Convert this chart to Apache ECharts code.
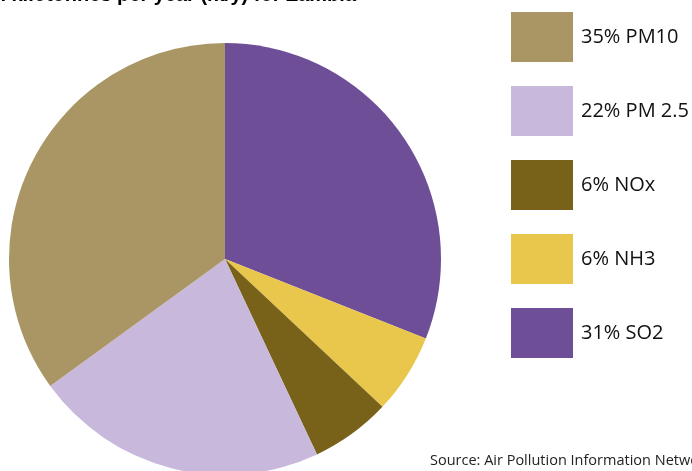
<!DOCTYPE html>
<html>
<head>
<meta charset="utf-8">
<script src="https://cdn.jsdelivr.net/npm/echarts@6/dist/echarts.min.js"></script>
<style>
  html, body { margin: 0; padding: 0; background: #fff; }
  #pie-main { width: 692px; height: 471px; }
</style>
</head>
<body>
<div id="pie-main"></div>
<script>
// slices in drawing order, clockwise from 12 o'clock
const pollutants = ['31% SO2', '6% NH3', '6% NOx', '22% PM 2.5', '35% PM10']
const shares = [31, 6, 6, 22, 35]
const colors = ['#6e4e97', '#e9c74c', '#78621a', '#c8b8dc', '#a99664']
// legend reads top-down the other way round
const legendOrder = ['35% PM10', '22% PM 2.5', '6% NOx', '6% NH3', '31% SO2']

const myChart = echarts.init(document.getElementById('pie-main'))

const option = {
  animation: false,
  color: colors,
  legend: {
    data: legendOrder,
    orient: 'vertical',
    left: 511,
    top: 12,
    padding: 0,
    itemWidth: 62,
    itemHeight: 50,
    itemGap: 24,
    icon: 'rect',
    selectedMode: false,
    textStyle: {
      fontFamily: 'Open Sans',
      fontSize: 20,
      color: '#111',
      padding: [2, 0, 0, 3]
    }
  },
  graphic: [
    {
      type: 'text',
      x: 356,
      y: 5,
      style: {
        text: 'Emissions in kilotonnes per year (kt/y) for Zambia',
        align: 'right',
        verticalAlign: 'bottom',
        font: 'bold 20px "Liberation Sans"',
        fill: '#000'
      }
    },
    {
      type: 'text',
      x: 430,
      y: 461,
      style: {
        text: 'Source: Air Pollution Information Network for Africa (APINA)',
        verticalAlign: 'middle',
        font: '14.5px "Open Sans"',
        fill: '#222'
      }
    }
  ],
  series: [{
    type: 'pie',
    center: [225, 259],
    radius: 216,
    startAngle: 90,
    clockwise: true,
    label: { show: false },
    labelLine: { show: false },
    emphasis: { disabled: true },
    itemStyle: { borderWidth: 0 },
    data: pollutants.map((name, i) => ({ name, value: shares[i] }))
  }]
}
myChart.setOption(option)
</script>
</body>
</html>
